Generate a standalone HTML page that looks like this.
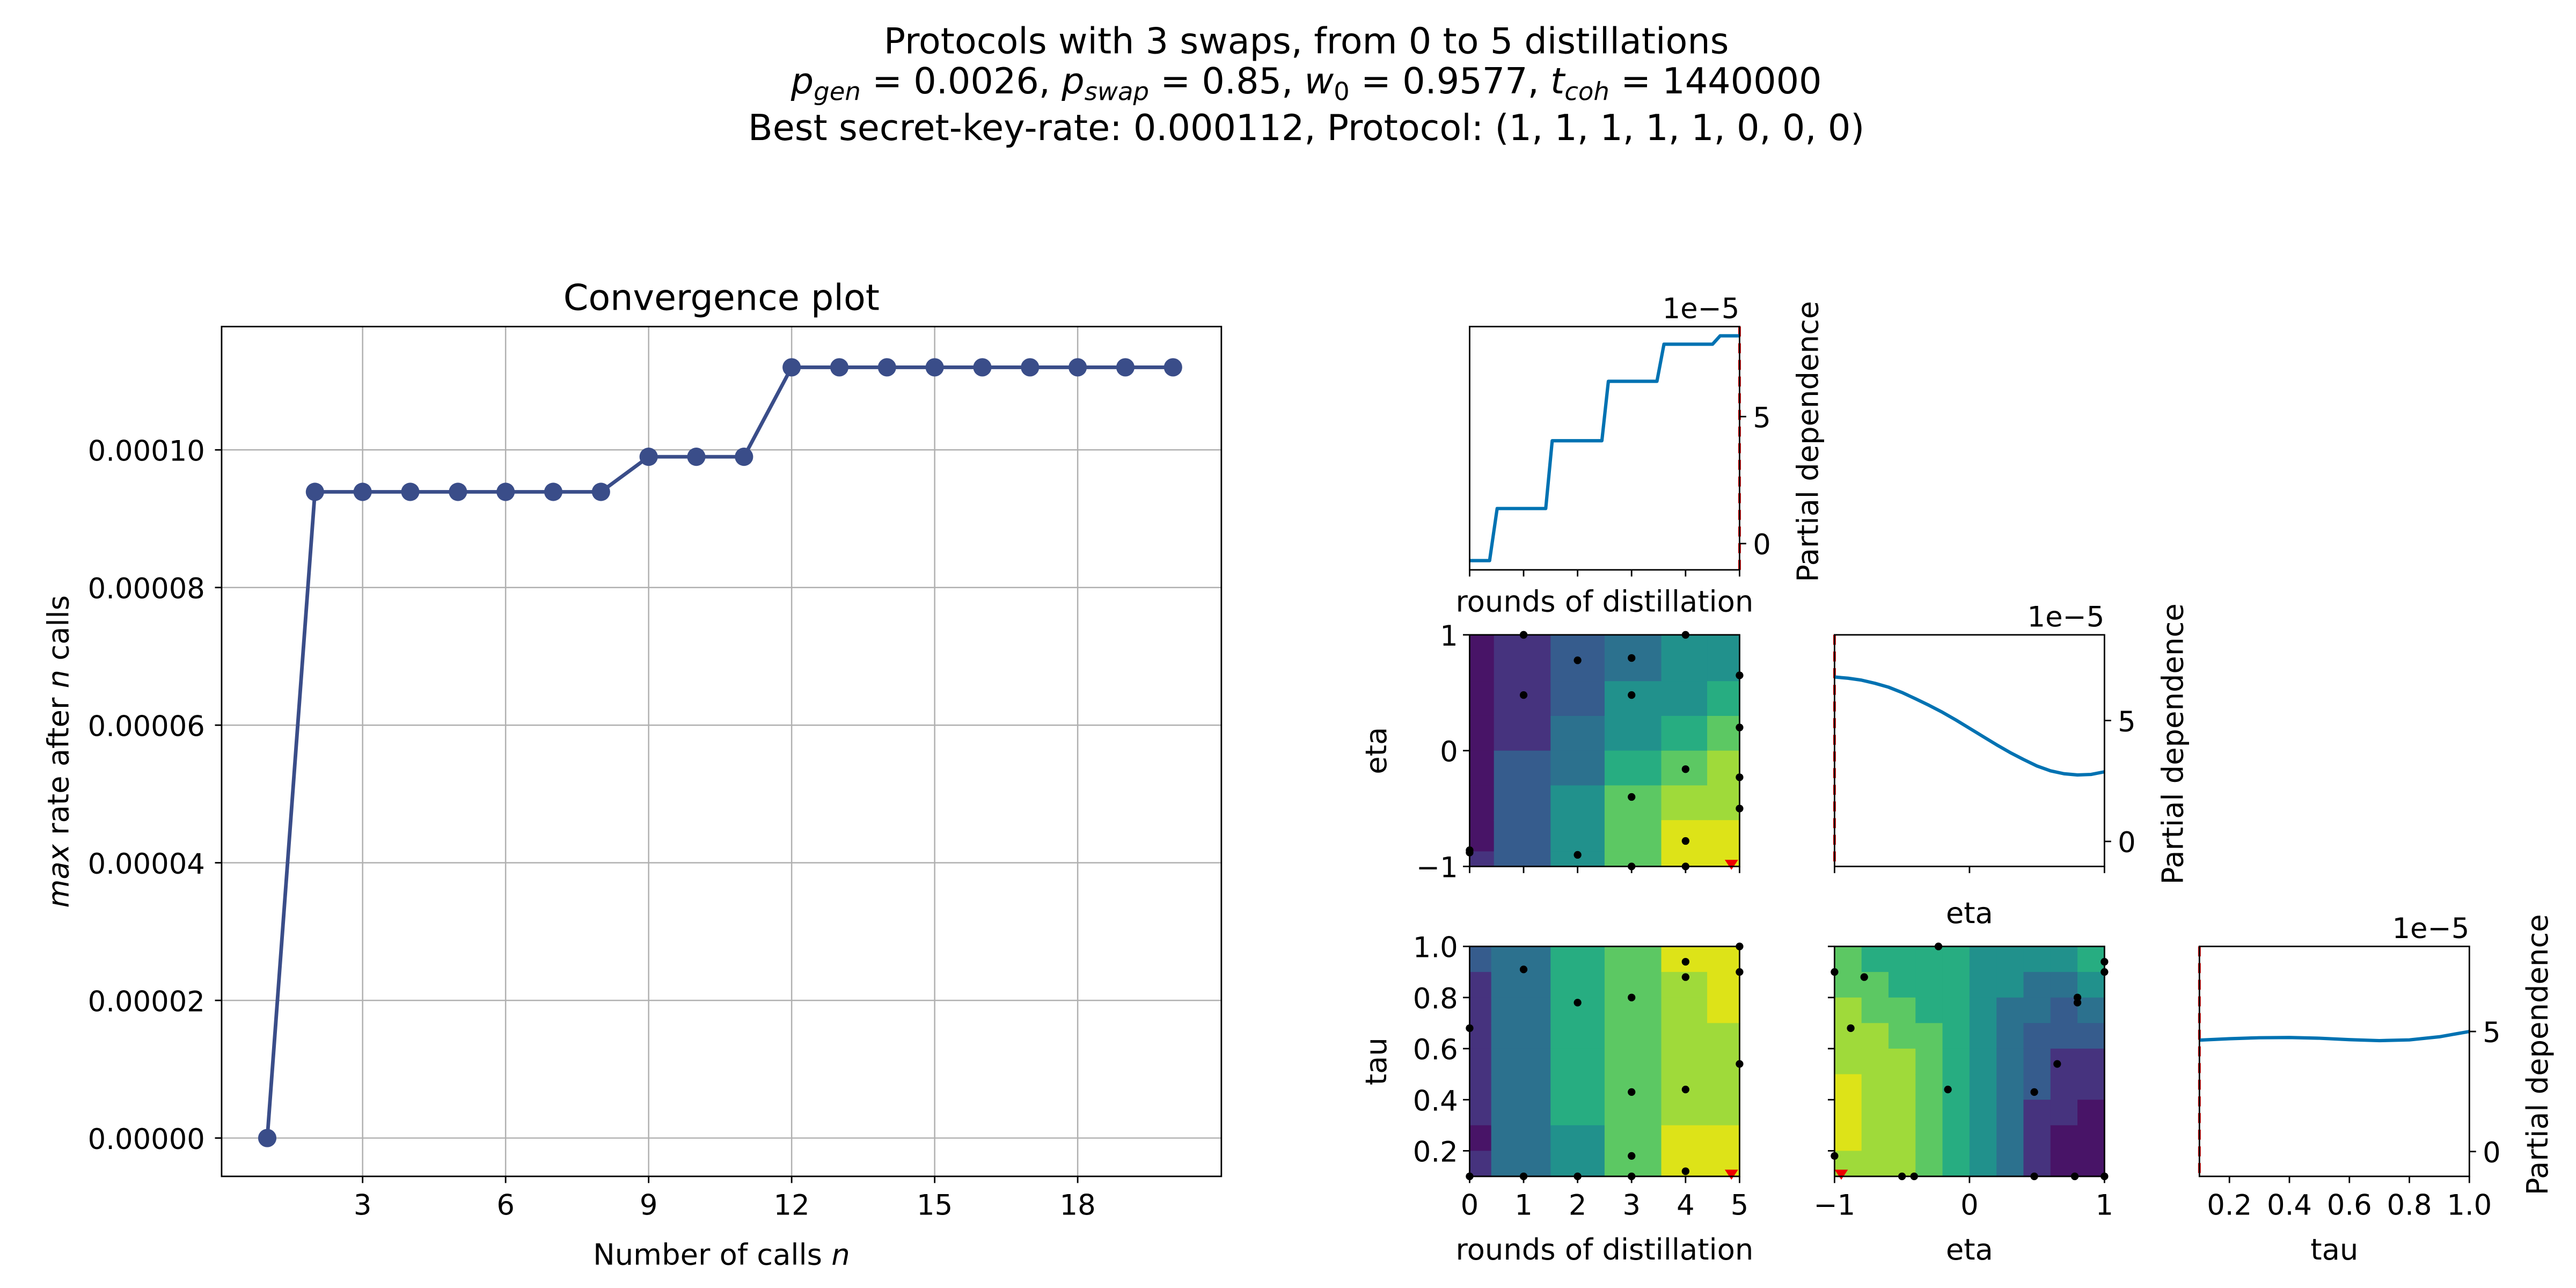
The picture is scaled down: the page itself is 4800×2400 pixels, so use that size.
<!DOCTYPE html>
<html><head><meta charset="utf-8"><style>
html,body{margin:0;padding:0;background:#fff;}
svg{display:block;font-family:"DejaVu Sans","Liberation Sans",sans-serif;}
</style></head><body>
<svg id="fig" xmlns="http://www.w3.org/2000/svg" width="4800" height="2400" viewBox="0 0 1546 773">
<rect width="1546" height="773" fill="#fff"/>
<g font-size="21.5" text-anchor="middle" fill="#000">
<text x="784" y="32">Protocols with 3 swaps, from 0 to 5 distillations</text>
<text x="784" y="56"><tspan font-style="italic">p</tspan><tspan font-style="italic" font-size="15" dy="4">gen</tspan><tspan dy="-4"> = 0.0026, </tspan><tspan font-style="italic">p</tspan><tspan font-style="italic" font-size="15" dy="4">swap</tspan><tspan dy="-4"> = 0.85, </tspan><tspan font-style="italic">w</tspan><tspan font-size="15" dy="4">0</tspan><tspan dy="-4"> = 0.9577, </tspan><tspan font-style="italic">t</tspan><tspan font-style="italic" font-size="15" dy="4">coh</tspan><tspan dy="-4"> = 1440000</tspan></text>
<text x="784" y="84">Best secret-key-rate: 0.000112, Protocol: (1, 1, 1, 1, 1, 0, 0, 0)</text>
</g>
<g id="conv"></g>
<g id="pd"></g>
</svg>
<script>
// ---- Convergence data ----
const calls = [1,2,3,4,5,6,7,8,9,10,11,12,13,14,15,16,17,18,19,20];
const maxRate = [0,0.0000939,0.0000939,0.0000939,0.0000939,0.0000939,0.0000939,0.0000939,0.000099,0.000099,0.000099,0.000112,0.000112,0.000112,0.000112,0.000112,0.000112,0.000112,0.000112,0.000112];
const convXTicks = [3,6,9,12,15,18];
const convYTicks = [0,0.00002,0.00004,0.00006,0.00008,0.0001];
const convYTickLabels = ["0.00000","0.00002","0.00004","0.00006","0.00008","0.00010"];
// ---- Partial dependence data ----
const pdRoundsX = [0,0.37,0.51,1.41,1.53,2.45,2.57,3.47,3.6,4.5,4.64,5];
const pdRoundsY = [-0.67,-0.67,1.38,1.38,4.05,4.05,6.39,6.39,7.85,7.85,8.18,8.18];
const pdEtaX = [-1,-0.9,-0.8,-0.7,-0.6,-0.5,-0.4,-0.3,-0.2,-0.1,0,0.1,0.2,0.3,0.4,0.5,0.6,0.7,0.8,0.9,1];
const pdEtaY = [6.8,6.75,6.67,6.54,6.38,6.16,5.9,5.63,5.34,5.02,4.68,4.34,4.0,3.68,3.39,3.12,2.92,2.8,2.75,2.77,2.88];
const pdTauX = [0.1,0.2,0.3,0.4,0.5,0.6,0.7,0.8,0.9,1.0];
const pdTauY = [4.64,4.7,4.74,4.75,4.72,4.66,4.62,4.65,4.78,5.0];
const bestRounds = 5, bestEta = -1, bestTau = 0.1;
// ---- Contour level data ----
const viridis = ['#481467','#46337e','#365c8d','#2c718e','#21918c','#27ad81','#5cc863','#9fda3a','#dde318'];
const c1XEdges = [0,0.45,1.5,2.5,3.55,4.4,5];
const c1YEdges = [1,0.6,0.3,0,-0.3,-0.6,-0.87,-1];
const c1Levels = [
 [0,0,0,0,0,0,1],[1,1,1,2,2,2,2],[2,2,3,3,4,4,4],[3,4,4,5,6,6,6],[4,4,5,6,7,8,8],[4,5,6,7,7,8,8]];
const c2XEdges = [-1,-0.8,-0.6,-0.4,-0.2,0,0.2,0.4,0.6,0.8,1];
const c2YEdges = [1,0.9,0.8,0.7,0.6,0.5,0.4,0.3,0.2,0.1];
const c2Levels = [
 [6,6,7,7,7,8,8,8,7],[5,6,6,7,7,7,7,7,7],[5,5,6,6,7,7,7,7,7],[5,5,5,6,6,6,6,6,6],[5,5,5,5,5,5,5,5,5],
 [4,4,4,4,4,4,4,4,4],[4,4,3,3,3,3,3,3,3],[4,3,3,2,2,2,1,1,1],[4,3,2,2,1,1,1,0,0],[5,4,3,2,1,1,0,0,0]];
const c3XEdges = [0,0.4,1.5,2.5,3.55,4.4,5];
const c3YEdges = [1,0.9,0.8,0.7,0.6,0.5,0.4,0.3,0.2,0.1];
const c3Levels = [
 [2,1,1,1,1,1,1,0,1],[3,3,3,3,3,3,3,3,3],[5,5,5,5,5,5,5,4,4],[6,6,6,6,6,6,6,6,6],[8,7,7,7,7,7,7,8,8],[8,8,8,7,7,7,7,8,8]];
// samples
const sRounds = [1,2,3,4,1,3,5,4,5,3,5,4,0,3,4,0,1,2,5];
const sEta = [1,0.78,0.8,1,0.48,0.48,0.65,-0.16,-0.23,-0.4,-0.5,-0.78,-0.86,-1,-1,-0.88,1,-0.9,0.2];
const s3Rounds = [1,2,3,4,4,5,5,0,3,4,5,3,4,0,1,2,3];
const s3Tau = [0.91,0.78,0.8,0.94,0.88,0.9,1.0,0.68,0.43,0.44,0.54,0.18,0.12,0.1,0.1,0.1,0.1];
const s2Eta = [-0.23,-1,-0.78,-0.88,-0.16,0.48,0.65,0.8,0.8,1,1,-1,-0.5,-0.41,0.48,0.78,1];
const s2Tau = [1.0,0.9,0.88,0.68,0.44,0.43,0.54,0.8,0.78,0.94,0.9,0.18,0.1,0.1,0.1,0.1,0.1];

const NS='http://www.w3.org/2000/svg';
function mk(parent,tag,attrs,txt){const e=document.createElementNS(NS,tag);for(const k in attrs)e.setAttribute(k,attrs[k]);if(txt!==undefined)e.textContent=txt;parent.appendChild(e);return e;}
function lin(d0,d1,r0,r1){return v=>r0+(v-d0)/(d1-d0)*(r1-r0);}
const FS=17.5;
const TFS=17;

// ---------- Convergence plot ----------
(function(){
 const g=document.getElementById('conv');
 const L=133,R=733,T=196,B=706;
 const xs=lin(1,20,160.4,704), ys=lin(0,0.0001,683,270);
 const grid=mk(g,'g',{});
 
 
 convXTicks.forEach(t=>{mk(grid,'line',{x1:xs(t),x2:xs(t),y1:T,y2:B,stroke:'#b0b0b0','stroke-width':0.8});});
 convYTicks.forEach(t=>{mk(grid,'line',{x1:L,x2:R,y1:ys(t),y2:ys(t),stroke:'#b0b0b0','stroke-width':0.8});});
 let d=calls.map((c,i)=>(i?'L':'M')+xs(c)+','+ys(maxRate[i])).join('');
 const line=mk(g,'path',{d:d,fill:'none',stroke:'#3a4d89','stroke-width':2.2,'stroke-linejoin':'round'});
 
 
 calls.forEach((c,i)=>{const p=mk(g,'circle',{cx:xs(c),cy:ys(maxRate[i]),r:5.5,fill:'#3a4d89'});
  
  });
 mk(g,'rect',{x:L,y:T,width:R-L,height:B-T,fill:'none',stroke:'#000','stroke-width':0.9});
 const xt=mk(g,'g',{'font-size':TFS,'text-anchor':'middle'});
 
 
 convXTicks.forEach(t=>{mk(xt,'line',{x1:xs(t),x2:xs(t),y1:B,y2:B+4,stroke:'#000','stroke-width':0.9});mk(xt,'text',{x:xs(t),y:B+23},String(t));});
 const yt=mk(g,'g',{'font-size':TFS,'text-anchor':'end'});
 
 
 convYTicks.forEach((t,i)=>{mk(yt,'line',{x1:L-4,x2:L,y1:ys(t),y2:ys(t),stroke:'#000','stroke-width':0.9});mk(yt,'text',{x:L-10,y:ys(t)+6.5},convYTickLabels[i]);});
 const tt=mk(g,'text',{x:433,y:186,'font-size':21.5,'text-anchor':'middle'},'Convergence plot');
 
 
 const xl=mk(g,'text',{x:433,y:759,'font-size':FS,'text-anchor':'middle'});
 
 
 xl.innerHTML='Number of calls <tspan font-style="italic">n</tspan>';
 const yl=mk(g,'text',{x:0,y:0,'font-size':FS,'text-anchor':'middle',transform:'translate(41,451) rotate(-90)'});
 
 
 yl.innerHTML='<tspan font-style="italic">max</tspan> rate after <tspan font-style="italic">n</tspan> calls';
})();

// ---------- Partial dependence grid ----------
const pdg=document.getElementById('pd');
function frame(g,L,T,W,H){mk(g,'rect',{x:L,y:T,width:W,height:H,fill:'none',stroke:'#000','stroke-width':0.9});}
function xticks(g,scale,ticks,B,labels){ticks.forEach((t,i)=>{mk(g,'line',{x1:scale(t),x2:scale(t),y1:B,y2:B+4,stroke:'#000','stroke-width':0.9});if(labels)mk(g,'text',{x:scale(t),y:B+23,'font-size':TFS,'text-anchor':'middle'},labels[i]);});}
function yticksL(g,scale,ticks,L,labels){ticks.forEach((t,i)=>{mk(g,'line',{x1:L-4,x2:L,y1:scale(t),y2:scale(t),stroke:'#000','stroke-width':0.9});if(labels)mk(g,'text',{x:L-7,y:scale(t)+6.5,'font-size':TFS,'text-anchor':'end'},labels[i]);});}
function pdPanel(name,L,T,W,H,xd,xTicks,xLabels,xs,ys,best,xTitle,xTitleY){
 const g=mk(pdg,'g',{});
 
 
 const X=lin(xd[0],xd[1],L,L+W);
 const y0=T+H*0.892, y5=T+H*0.370;
 const Ys=lin(0,5,y0,y5);
 const bx=X(best);
 mk(g,'line',{x1:bx,x2:bx,y1:T,y2:T+H,stroke:'#e00','stroke-width':1.6,'stroke-dasharray':'6,4'});
 const d=xs.map((v,i)=>(i?'L':'M')+X(v)+','+Ys(ys[i])).join('');
 const p=mk(g,'path',{d:d,fill:'none',stroke:'#0072b2','stroke-width':2,'stroke-linejoin':'round'});
 
 
 frame(g,L,T,W,H);
 xticks(g,X,xTicks,T+H,xLabels);
 [0,5].forEach(t=>{mk(g,'line',{x1:L+W,x2:L+W+4,y1:Ys(t),y2:Ys(t),stroke:'#000','stroke-width':0.9});mk(g,'text',{x:L+W+8,y:Ys(t)+6.5,'font-size':TFS},String(t));});
 mk(g,'text',{x:L+W,y:T-5,'font-size':TFS,'text-anchor':'end'},'1e\u22125');
 mk(g,'text',{x:0,y:0,'font-size':FS,'text-anchor':'middle',transform:'translate('+(L+W+47)+','+(T+H/2-4)+') rotate(-90)'},'Partial dependence');
 if(xTitle)mk(g,'text',{x:L+W/2,y:xTitleY,'font-size':FS,'text-anchor':'middle'},xTitle);
}
function contour(name,L,T,W,H,xd,yd,xE,yE,lev,sx,sy,best,xTicks,xLabels,yTicks,yLabels,xTitle,yTitle){
 const g=mk(pdg,'g',{});
 
 
 const X=lin(xd[0],xd[1],L,L+W), Y=lin(yd[0],yd[1],T+H,T);
 for(let c=0;c<xE.length-1;c++)for(let r=0;r<yE.length-1;r++){
  const x1=X(xE[c]),x2=X(xE[c+1]),ya=Y(yE[r]),yb=Y(yE[r+1]);
  const cell=mk(g,'rect',{x:Math.min(x1,x2),y:Math.min(ya,yb),width:Math.abs(x2-x1)+0.4,height:Math.abs(yb-ya)+0.4,fill:viridis[lev[c][r]]});
  
  
 }
 sx.forEach((v,i)=>{const p=mk(g,'circle',{cx:X(v),cy:Y(sy[i]),r:2.3,fill:'#000'});
  
  });
 const bx=X(best[0]),by=Y(best[1]);
 mk(g,'path',{d:'M'+(bx-4)+','+(by-4)+'L'+(bx+4)+','+(by-4)+'L'+bx+','+(by+2)+'Z',fill:'#e00'});
 frame(g,L,T,W,H);
 xticks(g,X,xTicks,T+H,xLabels);
 yticksL(g,Y,yTicks,L,yLabels);
 if(xTitle)mk(g,'text',{x:L+W/2,y:T+H+50,'font-size':FS,'text-anchor':'middle'},xTitle);
 if(yTitle)mk(g,'text',{x:0,y:0,'font-size':FS,'text-anchor':'middle',transform:'translate(832,'+(T+H/2)+') rotate(-90)'},yTitle);
}
const rT=[0,1,2,3,4,5], rL=['0','1','2','3','4','5'];
const eT=[-1,0,1], eL=['\u22121','0','1'];
const tT=[0.2,0.4,0.6,0.8,1.0], tL=['0.2','0.4','0.6','0.8','1.0'];
pdPanel('pd-rounds',882,196,162,146,[0,5],rT,null,pdRoundsX,pdRoundsY,bestRounds,'rounds of distillation',367);
pdPanel('pd-eta',1101,381,162,139,[-1,1],eT,null,pdEtaX,pdEtaY,bestEta,'eta',554);
pdPanel('pd-tau',1320,568,162,138,[0.1,1],tT,tL,pdTauX,pdTauY,bestTau,'tau',756);
contour('contour-rounds-eta',882,381,162,139,[0,5],[-1,1],c1XEdges,c1YEdges,c1Levels,sRounds,sEta,[4.85,-1],rT,null,eT,eL,null,'eta');
contour('contour-rounds-tau',882,568,162,138,[0,5],[0.1,1],c3XEdges,c3YEdges,c3Levels,s3Rounds,s3Tau,[4.85,0.1],rT,rL,tT,tL,'rounds of distillation','tau');
contour('contour-eta-tau',1101,568,162,138,[-1,1],[0.1,1],c2XEdges,c2YEdges,c2Levels,s2Eta,s2Tau,[-0.95,0.1],eT,eL,tT,null,'eta',null);
</script>
</body></html>
